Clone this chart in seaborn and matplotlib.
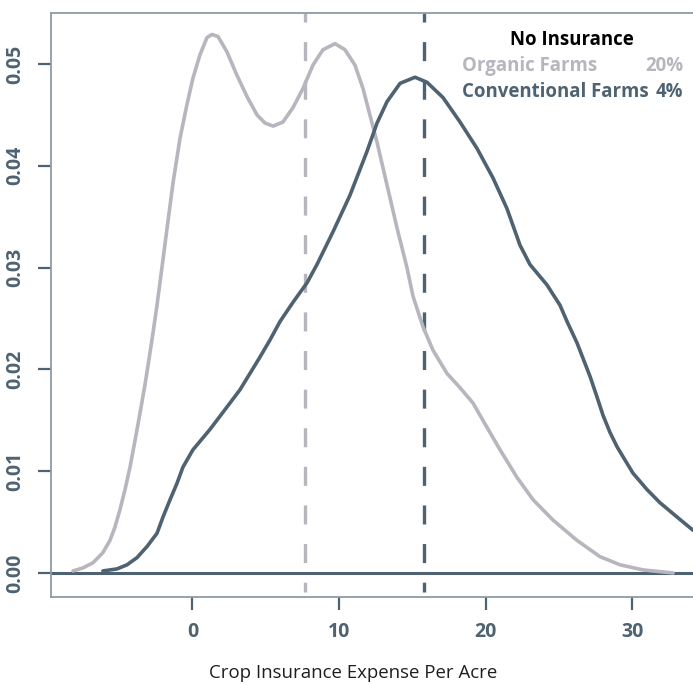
import matplotlib
matplotlib.use("Agg")
import matplotlib.pyplot as plt
import seaborn as sns
import pandas as pd

# ---- data ----
organic_x = [-8.15, -7.47, -6.79, -6.11, -5.63, -5.29, -4.95, -4.60, -4.26, -3.92,
             -3.58, -3.24, -3.04, -2.69, -2.42, -2.22, -2.01, -1.74, -1.33, -0.85,
             -0.38, 0.03, 0.51, 0.99, 1.33, 1.74, 2.35, 3.03, 3.72, 4.40,
             4.95, 5.50, 6.17, 6.85, 7.54, 8.22, 8.90, 9.72, 10.40, 11.08,
             11.63, 12.10, 12.59, 13.27, 13.95, 14.63, 15.04, 15.72, 16.40, 17.36,
             18.25, 19.13, 20.09, 20.98, 22.13, 23.23, 24.59, 26.23, 27.80, 29.17,
             30.74, 32.78]
organic_y = [0.0002, 0.0005, 0.0010, 0.0020, 0.0032, 0.0045, 0.0062, 0.0082, 0.0104, 0.0130,
             0.0157, 0.0185, 0.0203, 0.0236, 0.0263, 0.0285, 0.0308, 0.0338, 0.0383, 0.0427,
             0.0460, 0.0486, 0.0509, 0.0526, 0.0529, 0.0527, 0.0512, 0.0489, 0.0468, 0.0450,
             0.0442, 0.0439, 0.0443, 0.0457, 0.0476, 0.0499, 0.0514, 0.0520, 0.0514, 0.0499,
             0.0476, 0.0450, 0.0423, 0.0381, 0.0339, 0.0300, 0.0272, 0.0242, 0.0219, 0.0196,
             0.0182, 0.0167, 0.0143, 0.0121, 0.0094, 0.0072, 0.0052, 0.0032, 0.0016, 0.0008,
             0.0003, 0.0000]

conv_x = [-6.11, -5.15, -4.47, -3.79, -3.10, -2.42, -2.01, -1.53, -1.06, -0.65,
          0.03, 1.19, 2.35, 3.24, 3.92, 4.60, 5.29, 5.97, 6.86, 7.81,
          8.49, 9.58, 10.74, 11.90, 12.59, 13.27, 14.16, 15.18, 16.00, 17.09,
          18.25, 19.41, 20.50, 21.45, 22.34, 23.02, 24.18, 25.07, 25.55, 26.23,
          27.12, 27.59, 28.00, 28.48, 28.96, 29.50, 30.05, 31.00, 31.89, 33.05,
          34.14]
conv_y = [0.0002, 0.0004, 0.0008, 0.0015, 0.0026, 0.0039, 0.0055, 0.0072, 0.0088, 0.0104,
          0.0121, 0.0141, 0.0163, 0.0180, 0.0196, 0.0212, 0.0229, 0.0247, 0.0266, 0.0285,
          0.0303, 0.0335, 0.0371, 0.0414, 0.0442, 0.0463, 0.0481, 0.0487, 0.0482, 0.0467,
          0.0443, 0.0417, 0.0388, 0.0358, 0.0322, 0.0303, 0.0283, 0.0263, 0.0247, 0.0226,
          0.0193, 0.0173, 0.0155, 0.0138, 0.0124, 0.0111, 0.0098, 0.0082, 0.0069, 0.0055,
          0.0042]

groups = ["Organic Farms", "Conventional Farms"]
means = [7.7, 15.8]
no_insurance = ["20%", "4%"]
legend_title = "No Insurance"
x_label = "Crop Insurance Expense Per Acre"
x_ticks = [0, 10, 20, 30]
y_ticks = [0.00, 0.01, 0.02, 0.03, 0.04, 0.05]

# ---- styling ----
GRAY = "#b7b5bd"
SLATE = "#4e6271"
SPINE = "#8e9ca6"

sns.set_theme(style="white")
plt.rcParams["font.family"] = ["Open Sans", "DejaVu Sans"]
plt.rcParams["lines.scale_dashes"] = False

W, H = 693, 684
fig = plt.figure(figsize=(W / 100, H / 100), dpi=100)
ax = fig.add_axes([51 / W, (H - 596.5) / H, 1 - 51 / W + 0.01, (596.5 - 13.3) / H])

df = pd.concat([
    pd.DataFrame({"x": organic_x, "y": organic_y, "group": groups[0]}),
    pd.DataFrame({"x": conv_x, "y": conv_y, "group": groups[1]}),
])
palette = {groups[0]: GRAY, groups[1]: SLATE}

ax.axhline(0, color=SLATE, lw=2.2, zorder=1)
sns.lineplot(data=df, x="x", y="y", hue="group", palette=palette, sort=False,
             lw=2.6, legend=False, ax=ax, zorder=3)
for ln in ax.get_lines()[1:]:
    ln.set_solid_joinstyle("round")
    ln.set_solid_capstyle("round")

ylo, yhi = -0.00231, 0.05498
for m, g in zip(means, groups):
    ax.plot([m, m], [yhi, -0.00187], color=palette[g], lw=2.4,
            linestyle=(7.2, (13.7, 14.1)), zorder=2, dash_capstyle="butt")

ax.set_xlim(-9.65, 34.14 + 0.01 * W / 14.66)
ax.set_ylim(ylo, yhi)

ax.set_xticks(x_ticks)
ax.set_xticklabels([str(t) for t in x_ticks])
ax.set_yticks(y_ticks)
ax.set_yticklabels([f"{t:.2f}" for t in y_ticks], rotation=90, va="center")
ax.tick_params(axis="both", length=9.2, width=1.6, color=SLATE, labelcolor=SLATE,
               labelsize=14, bottom=True, left=True)
ax.tick_params(axis="x", pad=9)
ax.tick_params(axis="y", pad=9.5)
for lab in ax.get_xticklabels() + ax.get_yticklabels():
    lab.set_fontweight("bold")

for side in ["left", "top", "bottom"]:
    ax.spines[side].set_color(SPINE)
    ax.spines[side].set_linewidth(1.3)
ax.spines["right"].set_visible(False)

ax.set_xlabel("")
ax.set_ylabel("")
fig.text(353 / W, 1 - 673 / H, x_label, ha="center", va="center",
         fontsize=13.4, color="#1e1e1e")

# legend-like annotation
fig.text(572 / W, 1 - 40 / H, legend_title, ha="center", va="center",
         fontsize=13.4, fontweight="bold", color="black")
for i, (g, p) in enumerate(zip(groups, no_insurance)):
    yy = 1 - (66 + 26 * i) / H
    fig.text(462 / W, yy, g, ha="left", va="center", fontsize=13.4,
             fontweight="bold", color=palette[g])
    fig.text(683 / W, yy, p, ha="right", va="center", fontsize=13.4,
             fontweight="bold", color=palette[g])

fig.savefig("out.png", dpi=100)
